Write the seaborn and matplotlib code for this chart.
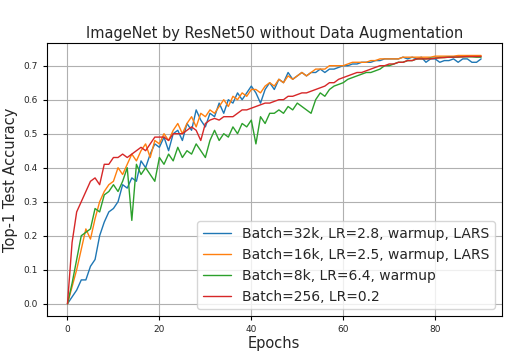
import numpy as np
import pandas as pd
import matplotlib
matplotlib.use("Agg")
import matplotlib.pyplot as plt
import seaborn as sns

# epochs 0..90, top-1 test accuracy
epochs = list(range(91))

acc_32k = [0.0, 0.02, 0.04, 0.07, 0.07, 0.11, 0.13, 0.20, 0.24, 0.27,
           0.28, 0.30, 0.35, 0.34, 0.37, 0.36, 0.42, 0.40, 0.44, 0.47,
           0.46, 0.49, 0.45, 0.50, 0.51, 0.48, 0.53, 0.51, 0.57, 0.54,
           0.52, 0.56, 0.55, 0.59, 0.56, 0.60, 0.59, 0.62, 0.60, 0.62,
           0.64, 0.62, 0.59, 0.63, 0.65, 0.63, 0.66, 0.65, 0.68, 0.66,
           0.67, 0.68, 0.67, 0.68, 0.68, 0.69, 0.68, 0.69, 0.69, 0.695,
           0.70, 0.70, 0.705, 0.705, 0.71, 0.71, 0.71, 0.715, 0.715, 0.72,
           0.72, 0.72, 0.72, 0.725, 0.72, 0.725, 0.72, 0.725, 0.71, 0.72,
           0.72, 0.71, 0.715, 0.715, 0.72, 0.71, 0.72, 0.72, 0.71, 0.71,
           0.72]

acc_16k = [0.0, 0.05, 0.10, 0.16, 0.22, 0.19, 0.25, 0.30, 0.33, 0.35,
           0.36, 0.40, 0.38, 0.41, 0.44, 0.42, 0.45, 0.47, 0.43, 0.48,
           0.47, 0.50, 0.48, 0.51, 0.53, 0.50, 0.53, 0.55, 0.52, 0.56,
           0.55, 0.57, 0.56, 0.58, 0.60, 0.58, 0.61, 0.60, 0.62, 0.61,
           0.63, 0.63, 0.62, 0.64, 0.65, 0.64, 0.66, 0.65, 0.67, 0.66,
           0.67, 0.68, 0.67, 0.68, 0.69, 0.69, 0.69, 0.70, 0.70, 0.70,
           0.70, 0.705, 0.71, 0.71, 0.71, 0.71, 0.715, 0.715, 0.72, 0.72,
           0.72, 0.72, 0.72, 0.725, 0.725, 0.725, 0.725, 0.725, 0.725, 0.725,
           0.728, 0.728, 0.728, 0.728, 0.728, 0.73, 0.73, 0.73, 0.73, 0.73,
           0.73]

acc_8k = [0.0, 0.06, 0.13, 0.20, 0.21, 0.22, 0.28, 0.27, 0.32, 0.33,
          0.35, 0.33, 0.36, 0.40, 0.245, 0.41, 0.38, 0.40, 0.38, 0.36,
          0.43, 0.41, 0.44, 0.42, 0.46, 0.43, 0.45, 0.44, 0.47, 0.45,
          0.43, 0.48, 0.51, 0.48, 0.50, 0.49, 0.52, 0.50, 0.53, 0.52,
          0.54, 0.47, 0.55, 0.53, 0.56, 0.56, 0.57, 0.56, 0.58, 0.57,
          0.59, 0.58, 0.57, 0.56, 0.60, 0.62, 0.61, 0.63, 0.64, 0.645,
          0.65, 0.66, 0.665, 0.67, 0.675, 0.68, 0.68, 0.685, 0.69, 0.70,
          0.70, 0.705, 0.71, 0.71, 0.715, 0.715, 0.72, 0.72, 0.72, 0.722,
          0.722, 0.724, 0.724, 0.725, 0.725, 0.725, 0.726, 0.726, 0.726, 0.725,
          0.725]

acc_256 = [0.0, 0.18, 0.27, 0.30, 0.33, 0.36, 0.37, 0.35, 0.41, 0.41,
           0.43, 0.43, 0.44, 0.43, 0.44, 0.45, 0.46, 0.45, 0.47, 0.49,
           0.49, 0.49, 0.48, 0.50, 0.50, 0.50, 0.51, 0.52, 0.51, 0.48,
           0.53, 0.54, 0.545, 0.54, 0.55, 0.55, 0.55, 0.56, 0.57, 0.57,
           0.575, 0.58, 0.585, 0.59, 0.59, 0.595, 0.60, 0.60, 0.61, 0.61,
           0.615, 0.62, 0.62, 0.625, 0.63, 0.635, 0.64, 0.65, 0.65, 0.66,
           0.665, 0.67, 0.675, 0.68, 0.68, 0.685, 0.69, 0.695, 0.70, 0.70,
           0.705, 0.705, 0.71, 0.71, 0.715, 0.715, 0.72, 0.72, 0.72, 0.72,
           0.722, 0.723, 0.724, 0.725, 0.725, 0.726, 0.726, 0.727, 0.727, 0.727,
           0.727]

labels = ["Batch=32k, LR=2.8, warmup, LARS",
          "Batch=16k, LR=2.5, warmup, LARS",
          "Batch=8k, LR=6.4, warmup",
          "Batch=256, LR=0.2"]
colors = ["#1f77b4", "#ff7f0e", "#2ca02c", "#d62728"]

df = pd.concat([
    pd.DataFrame({"epoch": epochs, "acc": vals, "run": lab})
    for vals, lab in zip([acc_32k, acc_16k, acc_8k, acc_256], labels)
])

sns.set_style("whitegrid")
plt.rcParams["font.family"] = ["DejaVu Sans"]

fig = plt.figure(figsize=(5.2, 3.56), dpi=100)
ax = fig.add_axes([0.090, 0.112, 0.875, 0.767])
sns.lineplot(data=df, x="epoch", y="acc", hue="run", hue_order=labels,
             palette=colors, linewidth=1.0, ax=ax)

ax.grid(True, color="#b0b0b0", linewidth=0.8)
for s in ax.spines.values():
    s.set_color("black")
    s.set_linewidth(0.8)
ax.tick_params(axis="both", labelsize=6.5, direction="out", length=3,
               color="black", bottom=True, left=True)
ax.set_xticks([0, 20, 40, 60, 80])
ax.set_yticks([0.0, 0.1, 0.2, 0.3, 0.4, 0.5, 0.6, 0.7])
ax.set_xlim(-4.5, 94.5)
ax.set_ylim(-0.0365, 0.7665)

ax.set_title("ImageNet by ResNet50 without Data Augmentation", fontsize=10.5, pad=4)
ax.set_xlabel("Epochs", fontsize=10.5, labelpad=1)
ax.set_ylabel("Top-1 Test Accuracy", fontsize=10.5, labelpad=4)
leg = ax.legend(loc="lower right", fontsize=10, frameon=True, framealpha=0.8)
leg.get_frame().set_edgecolor("#cccccc")

fig.savefig("out.png", dpi=100)
